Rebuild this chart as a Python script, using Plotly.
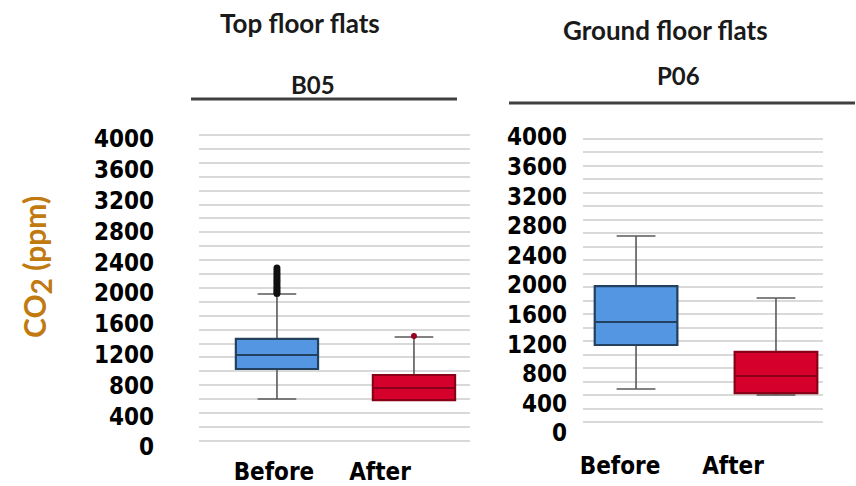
import plotly.graph_objects as go

W, H = 856, 486

# ---------------- data ----------------
groups = ["Before", "After"]
panel_titles = ["Top floor flats", "Ground floor flats"]
flat_names = ["B05", "P06"]
y_tick_vals = [0, 400, 800, 1200, 1600, 2000, 2400, 2800, 3200, 3600, 4000]

b05_q1 = [1013, 610]
b05_median = [1195, 766]
b05_q3 = [1403, 935]
b05_lowerfence = [623, 610]
b05_upperfence = [1987, 1429]
b05_outliers_before = [1995, 2020, 2045, 2075, 2105, 2135, 2165, 2195, 2225, 2255, 2290, 2325]
b05_outliers_after = [1440]

p06_q1 = [1189, 540]
p06_median = [1500, 770]
p06_q3 = [1986, 1095]
p06_lowerfence = [595, 514]
p06_upperfence = [2662, 1824]

# ---------------- styling ----------------
fill_cols = ["#5596E3", "#D5002C"]
edge_cols = ["#23405f", "#8a0018"]
whisker_col = "#5a5a5a"
grid_col = "#d9d9d9"
num_font = "DejaVu Sans Condensed, Liberation Sans Narrow, sans-serif"
title_font = "Lato, Carlito, Calibri, sans-serif"

def px_x(p):
    return p / W

def px_y(p):
    return 1 - p / H

fig = go.Figure()

panels = [
    dict(q1=b05_q1, med=b05_median, q3=b05_q3, lo=b05_lowerfence, hi=b05_upperfence,
         xa="x", ya="y", width=0.6),
    dict(q1=p06_q1, med=p06_median, q3=p06_q3, lo=p06_lowerfence, hi=p06_upperfence,
         xa="x2", ya="y2", width=0.59),
]

# empty traces so that the grid-only overlay axes get drawn
fig.add_trace(go.Scatter(x=[], y=[], xaxis="x", yaxis="y3", showlegend=False, hoverinfo="skip"))
fig.add_trace(go.Scatter(x=[], y=[], xaxis="x2", yaxis="y4", showlegend=False, hoverinfo="skip"))

for p in panels:
    for i, g in enumerate(groups):
        # full box with whiskers (grey whisker lines)
        fig.add_trace(go.Box(
            x=[i], q1=[p["q1"][i]], median=[p["med"][i]], q3=[p["q3"][i]],
            lowerfence=[p["lo"][i]], upperfence=[p["hi"][i]],
            width=p["width"], whiskerwidth=0.47, boxpoints=False,
            fillcolor=fill_cols[i], line=dict(color=whisker_col, width=1.6),
            xaxis=p["xa"], yaxis=p["ya"], showlegend=False, hoverinfo="skip", name=g,
        ))
        # box body with darker outline / median
        fig.add_trace(go.Box(
            x=[i], q1=[p["q1"][i]], median=[p["med"][i]], q3=[p["q3"][i]],
            lowerfence=[p["q1"][i]], upperfence=[p["q3"][i]],
            width=p["width"], whiskerwidth=0, boxpoints=False,
            fillcolor=fill_cols[i], line=dict(color=edge_cols[i], width=2.2),
            xaxis=p["xa"], yaxis=p["ya"], showlegend=False, hoverinfo="skip", name=g,
        ))

# outliers B05
fig.add_trace(go.Scatter(
    x=[0] * len(b05_outliers_before), y=b05_outliers_before, mode="markers",
    marker=dict(color="#111111", size=7), xaxis="x", yaxis="y",
    showlegend=False, hoverinfo="skip"))
fig.add_trace(go.Scatter(
    x=[1] * len(b05_outliers_after), y=b05_outliers_after, mode="markers",
    marker=dict(color="#9a0020", size=6), xaxis="x", yaxis="y",
    showlegend=False, hoverinfo="skip"))

tick_text = [str(v) for v in y_tick_vals]
ytick_font = dict(family=num_font, size=24, color="#000000", weight="bold")
xtick_font = dict(family=num_font, size=24, color="#000000", weight="bold")

L_dom = [px_y(447), px_y(133)]
R_dom = [px_y(433), px_y(135)]

common = dict(zeroline=False, showline=False, ticks="", automargin=False)

fig.update_layout(
    width=W, height=H,
    margin=dict(l=0, r=0, t=0, b=0, autoexpand=False),
    paper_bgcolor="white", plot_bgcolor="rgba(0,0,0,0)",
    xaxis=dict(domain=[px_x(199), px_x(470)], range=[-0.569, 1.409], anchor="y",
               tickvals=[-0.022, 0.752], ticktext=groups, tickfont=xtick_font,
               showgrid=False, ticklabelstandoff=8, **common),
    yaxis=dict(domain=L_dom, range=[0, 4078], anchor="free", position=px_x(154),
               tickvals=y_tick_vals, ticktext=tick_text, tickfont=ytick_font,
               showgrid=False, **common),
    yaxis3=dict(overlaying="y", anchor="x", range=[-288, 4229], tick0=0, dtick=200,
                showgrid=True, gridcolor=grid_col, gridwidth=2, showticklabels=False,
                **common),
    xaxis2=dict(domain=[px_x(583), px_x(823)], range=[-0.379, 1.336], anchor="y2",
                tickvals=[-0.114, 0.693], ticktext=groups, tickfont=xtick_font,
                showgrid=False, ticklabelstandoff=16, **common),
    yaxis2=dict(domain=R_dom, range=[0, 4027], anchor="free", position=px_x(567),
                tickvals=y_tick_vals, ticktext=tick_text, tickfont=ytick_font,
                showgrid=False, **common),
    yaxis4=dict(overlaying="y2", anchor="x2", range=[-163, 4259], tick0=0, dtick=200,
                showgrid=True, gridcolor=grid_col, gridwidth=2, showticklabels=False,
                **common),
)

# header lines under flat names
fig.add_shape(type="line", xref="paper", yref="paper",
              x0=px_x(191), x1=px_x(457), y0=px_y(99), y1=px_y(99),
              line=dict(color="#404040", width=3))
fig.add_shape(type="line", xref="paper", yref="paper",
              x0=px_x(509), x1=px_x(855), y0=px_y(103), y1=px_y(103),
              line=dict(color="#404040", width=3))

big = dict(family=title_font, size=26, color="#1a1a1a", weight="bold")
small = dict(family=title_font, size=24, color="#1a1a1a", weight="bold")
for txt, x, y, f in [(panel_titles[0], 300, 23, big), (flat_names[0], 313, 84, small),
                     (panel_titles[1], 665, 30, big), (flat_names[1], 678, 75, small)]:
    fig.add_annotation(text=txt, x=px_x(x), y=px_y(y), xref="paper", yref="paper",
                       xanchor="center", yanchor="middle", showarrow=False, font=f)

fig.add_annotation(text="CO<sub><span style='font-size:28px'>2</span></sub> (ppm)",
                   x=px_x(37), y=px_y(267),
                   xref="paper", yref="paper", xanchor="center", yanchor="middle",
                   textangle=-90, showarrow=False,
                   font=dict(family=title_font, size=30, color="#C07A10", weight="bold"))

fig.write_html("out.html")
